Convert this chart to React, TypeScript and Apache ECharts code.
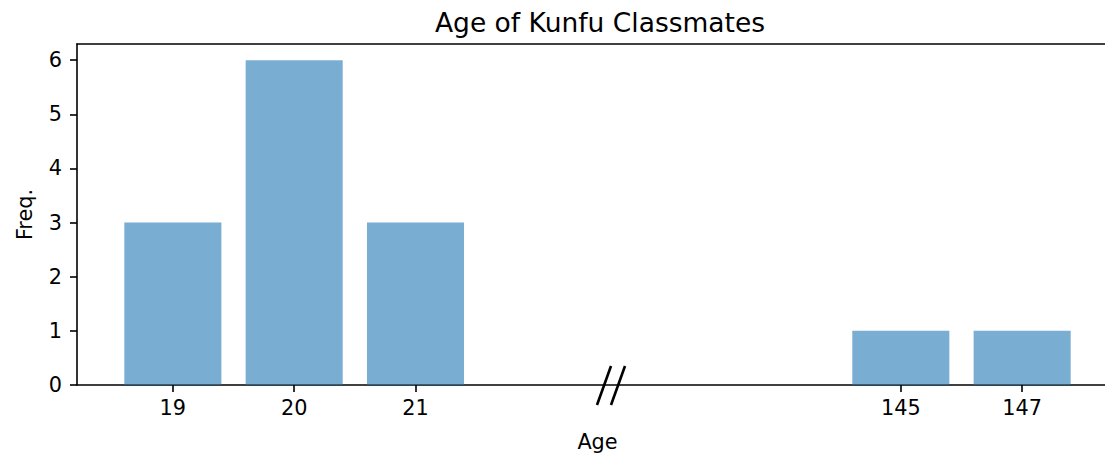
import React, { useEffect, useRef } from "react";
import * as echarts from "echarts";

const positions = [0, 1, 2, 6, 7];
const ageLabels = ["19", "20", "21", "145", "147"];
const freqs = [3, 6, 3, 1, 1];
const yTicks = [0, 1, 2, 3, 4, 5, 6];

export default function App() {
  const ref = useRef<HTMLDivElement>(null);
  useEffect(() => {
    if (!ref.current) return;
    const chart = echarts.init(ref.current, null, { renderer: "svg" });
    const font = "DejaVu Sans";
    const xmin = -0.79;
    const xmax = 7.79;
    const gridLeft = 77;
    const gridWidth = 1041;
    const unit = gridWidth / (xmax - xmin);
    const labelMap: Record<number, string> = {};
    positions.forEach((p, i) => (labelMap[p] = ageLabels[i]));
    const lw = 1.6;
    chart.setOption({
      animation: false,
      title: {
        text: "Age of Kunfu Classmates",
        left: 595,
        textAlign: "center",
        top: 4,
        textStyle: { fontFamily: font, fontSize: 26.5, fontWeight: "normal", color: "#000" },
      },
      grid: {
        left: gridLeft,
        top: 44,
        width: gridWidth,
        height: 341,
        show: false,
        outerBoundsMode: "none",
        containLabel: false,
      },
      xAxis: [
        {
          type: "value",
          min: xmin,
          max: xmax,
          name: "Age",
          nameLocation: "middle",
          nameGap: 46,
          nameTextStyle: { fontFamily: font, fontSize: 20.8, color: "#000" },
          axisLine: { show: true, onZero: false, lineStyle: { color: "#000", width: lw } },
          axisTick: { show: true, inside: false, length: 7, lineStyle: { color: "#000", width: lw }, customValues: positions },
          axisLabel: {
            show: true,
            margin: 12,
            fontFamily: font,
            fontSize: 20.8,
            color: "#000",
            customValues: positions,
            formatter: (v: number) => labelMap[v] ?? "",
          },
          splitLine: { show: false },
        },
        {
          type: "value",
          position: "top",
          min: xmin,
          max: xmax,
          axisLine: { show: true, onZero: false, lineStyle: { color: "#000", width: lw } },
          axisTick: { show: false },
          axisLabel: { show: false },
          splitLine: { show: false },
        },
      ],
      yAxis: {
        type: "value",
        min: 0,
        max: 6.3,
        name: "Freq.",
        nameLocation: "middle",
        nameGap: 42,
        nameRotate: 90,
        nameTextStyle: { fontFamily: font, fontSize: 20.8, color: "#000" },
        axisLine: { show: true, onZero: false, lineStyle: { color: "#000", width: lw } },
        axisTick: { show: true, inside: false, length: 7, lineStyle: { color: "#000", width: lw }, customValues: yTicks },
        axisLabel: {
          show: true,
          margin: 15,
          fontFamily: font,
          fontSize: 20.8,
          color: "#000",
          customValues: yTicks,
        },
        splitLine: { show: false },
      },
      series: [
        {
          type: "bar",
          xAxisIndex: 0,
          data: positions.map((p, i) => [p, freqs[i]]),
          barWidth: 0.8 * unit,
          itemStyle: { color: "#1f77b4", opacity: 0.6 },
        },
      ],
      graphic: [
        { type: "line", shape: { x1: 597, y1: 405, x2: 611, y2: 366 }, style: { stroke: "#000", lineWidth: 2.6 } },
        { type: "line", shape: { x1: 611, y1: 405, x2: 625, y2: 366 }, style: { stroke: "#000", lineWidth: 2.6 } },
      ],
    });
    return () => chart.dispose();
  }, []);
  return (
    <div
      ref={ref}
      style={{ position: "fixed", left: 0, top: 0, width: 1105, height: 456, background: "#fff" }}
    />
  );
}
